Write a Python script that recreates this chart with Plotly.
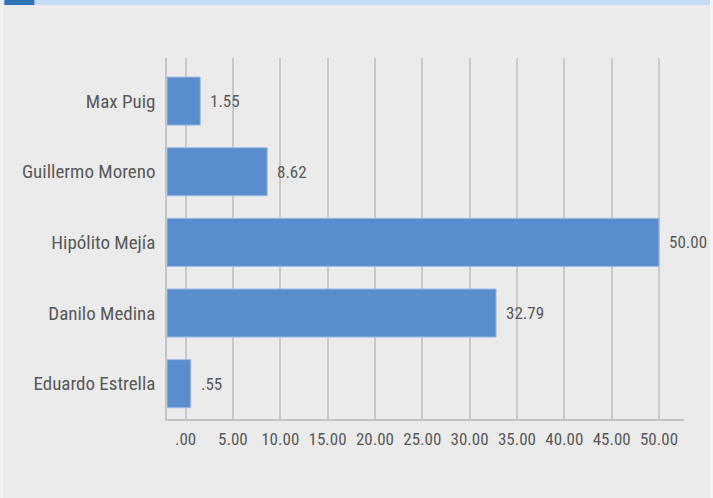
import plotly.graph_objects as go

# Data (bottom to top)
candidates = ["Eduardo Estrella", "Danilo Medina", "Hipólito Mejía", "Guillermo Moreno", "Max Puig"]
values = [0.55, 32.79, 50.00, 8.62, 1.55]
tick_values = [0, 5, 10, 15, 20, 25, 30, 35, 40, 45, 50]


def fmt(v):
    s = f"{v:.2f}"
    return s[1:] if s.startswith("0") else s


x_min, x_max = -1.96, 52.64
W, H = 713, 498
L, R, T, B = 166.7, 29, 58, 79
pw, ph = W - L - R, H - T - B


def px_x(p):
    return (p - L) / pw


def px_y(p):
    return 1 + (T - p) / ph


FONT = "Liberation Sans Narrow, Roboto Condensed, Arial Narrow, Roboto, sans-serif"
TXT = "#595959"

fig = go.Figure(
    go.Bar(
        y=candidates,
        x=[v - x_min for v in values],
        base=x_min,
        orientation="h",
        width=0.68,
        marker=dict(color="#5a8dcd", line=dict(color="#9dbbe3", width=1)),
        hoverinfo="skip",
    )
)

for cat, v in zip(candidates, values):
    fig.add_annotation(
        x=v, y=cat, xref="x", yref="y", text=fmt(v), showarrow=False,
        xanchor="left", yanchor="middle", xshift=8,
        font=dict(family=FONT, size=17, color=TXT),
    )

shapes = [
    dict(type="rect", xref="paper", yref="paper", x0=px_x(0), x1=px_x(W), y0=px_y(5), y1=px_y(0),
         fillcolor="#c5ddf4", line_width=0, layer="below"),
    dict(type="rect", xref="paper", yref="paper", x0=px_x(4), x1=px_x(34), y0=px_y(5), y1=px_y(0),
         fillcolor="#2e74b5", line_width=0, layer="below"),
    dict(type="rect", xref="paper", yref="paper", x0=px_x(0), x1=px_x(3), y0=px_y(H), y1=px_y(0),
         fillcolor="#f3f3f3", line_width=0, layer="below"),
    dict(type="rect", xref="paper", yref="paper", x0=px_x(710), x1=px_x(W), y0=px_y(H), y1=px_y(0),
         fillcolor="#f3f3f3", line_width=0, layer="below"),
]

fig.update_layout(
    width=W,
    height=H,
    margin=dict(l=L, r=R, t=T, b=B, pad=0),
    paper_bgcolor="#ebebeb",
    plot_bgcolor="#ebebeb",
    font=dict(family=FONT, size=17, color=TXT),
    showlegend=False,
    shapes=shapes,
    xaxis=dict(
        range=[x_min, x_max],
        tickvals=tick_values,
        ticktext=[fmt(v) for v in tick_values],
        showgrid=True,
        gridcolor="#c9c9c9",
        gridwidth=1.5,
        zeroline=False,
        showline=True,
        linecolor="#c4c4c4",
        linewidth=1.5,
        ticks="",
        ticklabelstandoff=4,
        tickfont=dict(family=FONT, size=17, color=TXT),
        fixedrange=True,
    ),
    yaxis=dict(
        type="category",
        categoryorder="array",
        categoryarray=candidates,
        range=[-0.5, 4.61],
        showgrid=False,
        zeroline=False,
        showline=True,
        linecolor="#c4c4c4",
        linewidth=1.5,
        ticks="",
        ticklabelstandoff=6,
        tickfont=dict(family=FONT, size=19, color=TXT),
        fixedrange=True,
    ),
)

fig.write_html("out.html")
